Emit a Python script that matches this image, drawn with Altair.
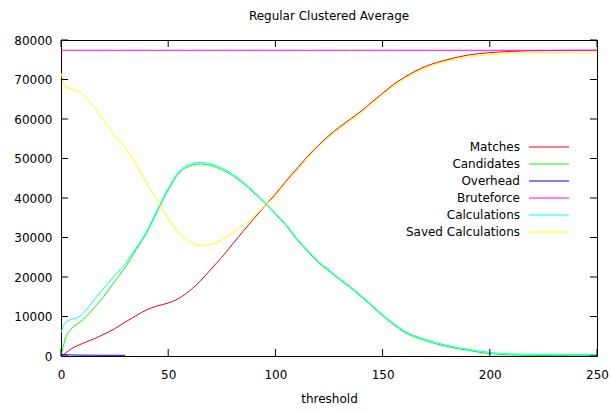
import altair as alt
import pandas as pd

# Threshold sample points shared by every series
thresholds = [0, 2, 5, 8, 12, 16, 20, 25, 30, 35, 40, 45, 50, 55, 60, 65, 70, 75,
              80, 85, 90, 95, 100, 105, 110, 115, 120, 125, 130, 135, 140, 145,
              150, 155, 160, 170, 180, 190, 200, 210, 220, 230, 240, 250]

matches = [0, 700, 1900, 2700, 3600, 4500, 5500, 6900, 8600, 10200, 11700, 12700,
           13400, 14600, 16500, 19000, 22000, 25000, 28300, 31600, 34800, 37900,
           41000, 44300, 47400, 50500, 53300, 55800, 58000, 60000, 62000, 64300,
           66500, 68700, 70500, 73300, 75000, 76200, 76800, 77100, 77300, 77350,
           77400, 77400]

candidates = [0, 4300, 7000, 8300, 10100, 12600, 15100, 18900, 22500, 26900, 31200,
              36700, 42000, 46300, 48100, 48600, 48200, 47200, 45700, 43700, 41300,
              38700, 35900, 33000, 29500, 26500, 23700, 21500, 19300, 17300, 15000,
              12600, 10200, 8000, 6100, 3900, 2400, 1400, 600, 250, 150, 100, 80, 60]

overhead = [450, 330, 260, 230, 210, 200, 190, 180, 170] + [None] * 35

bruteforce = [77400] * 44

calculations = [5900, 8400, 9300, 9800, 11800, 14600, 17200, 20300, 23400, 27300,
                31600, 37100, 42400, 46700, 48500, 49000, 48600, 47600, 46100, 44000,
                41600, 39000, 36200, 33300, 29800, 26800, 24000, 21800, 19600, 17600,
                15300, 12900, 10500, 8300, 6400, 4200, 2700, 1700, 900, 550, 450, 420,
                400, 400]

saved_calculations = [71700, 68300, 67600, 67000, 65300, 62600, 59600, 55800, 52700,
                      48500, 43800, 39200, 34800, 31200, 29000, 28000, 28300, 29400,
                      31200, 33100, 35300, 38000, 40600, 43900, 47000, 50100, 52900,
                      55400, 57600, 59600, 61600, 63900, 66100, 68300, 70100, 72900,
                      74600, 75700, 76300, 76600, 76800, 76850, 76900, 76900]

series_names = ["Matches", "Candidates", "Overhead", "Bruteforce", "Calculations",
                "Saved Calculations"]
series_colors = ["#ff0000", "#00ff00", "#0000ff", "#ff00ff", "#00ffff", "#ffff00"]
series_values = [matches, candidates, overhead, bruteforce, calculations,
                 saved_calculations]

x_ticks = [0, 50, 100, 150, 200, 250]
y_ticks = [0, 10000, 20000, 30000, 40000, 50000, 60000, 70000, 80000]

rows = []
for name, vals in zip(series_names, series_values):
    for t, v in zip(thresholds, vals):
        if v is not None:
            rows.append({"threshold": t, "value": v, "series": name})
df = pd.DataFrame(rows)

W, H = 536, 316
FONT = "DejaVu Sans"

x_scale = alt.Scale(domain=[0, 250], nice=False, zero=False)
y_scale = alt.Scale(domain=[0, 80000], nice=False)
color_scale = alt.Scale(domain=series_names, range=series_colors)

lines = alt.Chart(df).mark_line(strokeWidth=1, interpolate="monotone", clip=True).encode(
    x=alt.X("threshold:Q", scale=x_scale,
            axis=alt.Axis(values=x_ticks, title="threshold", labelPadding=13,
                          titlePadding=13, labelFlush=False)),
    y=alt.Y("value:Q", scale=y_scale,
            axis=alt.Axis(values=y_ticks, title=None, format="d", labelPadding=9,
                          labelFlush=False)),
    color=alt.Color("series:N", scale=color_scale, legend=None),
)

# Inward tick marks on all four sides of the frame
xt = pd.DataFrame({"threshold": x_ticks})
yt = pd.DataFrame({"value": y_ticks})
TL = 7
tick_color = "#000000"
x_bottom = alt.Chart(xt).mark_rule(color=tick_color, strokeWidth=1).encode(
    x=alt.X("threshold:Q", scale=x_scale), y=alt.value(H), y2=alt.value(H - TL))
x_top = alt.Chart(xt).mark_rule(color=tick_color, strokeWidth=1).encode(
    x=alt.X("threshold:Q", scale=x_scale), y=alt.value(0), y2=alt.value(TL))
y_left = alt.Chart(yt).mark_rule(color=tick_color, strokeWidth=1).encode(
    y=alt.Y("value:Q", scale=y_scale, axis=None), x=alt.value(0), x2=alt.value(TL))
y_right = alt.Chart(yt).mark_rule(color=tick_color, strokeWidth=1).encode(
    y=alt.Y("value:Q", scale=y_scale, axis=None), x=alt.value(W), x2=alt.value(W - TL))

# Key: right-aligned names with a short line sample to their right
key_df = pd.DataFrame({"series": series_names})
key_y = alt.Y("series:N", sort=series_names,
              scale=alt.Scale(type="point", domain=series_names, range=[107, 192],
                              padding=0),
              axis=None)
key_text = alt.Chart(key_df).mark_text(
    align="right", baseline="middle", font=FONT, fontSize=12, color="#000000"
).encode(y=key_y, x=alt.value(459), text="series:N")
key_line = alt.Chart(key_df).mark_rule(strokeWidth=1).encode(
    y=key_y, x=alt.value(468), x2=alt.value(508),
    color=alt.Color("series:N", scale=color_scale, legend=None))

chart = alt.layer(
    lines, x_bottom, x_top, y_left, y_right, key_text, key_line
).resolve_scale(y="independent").properties(
    width=W, height=H,
    title=alt.TitleParams("Regular Clustered Average", font=FONT, fontSize=12,
                          fontWeight="normal", color="#000000", anchor="middle",
                          offset=11),
    autosize=alt.AutoSizeParams(type="none"),
    padding={"left": 61, "top": 40, "right": 14, "bottom": 55},
    background="white",
).configure_view(
    stroke="#000000", strokeWidth=1
).configure_axis(
    domain=False, ticks=False, tickSize=0, grid=False,
    labelFont=FONT, labelFontSize=12, labelColor="#000000",
    titleFont=FONT, titleFontSize=12, titleFontWeight="normal", titleColor="#000000",
)

chart.save("out.html", embed_options={"renderer": "svg", "actions": False})
